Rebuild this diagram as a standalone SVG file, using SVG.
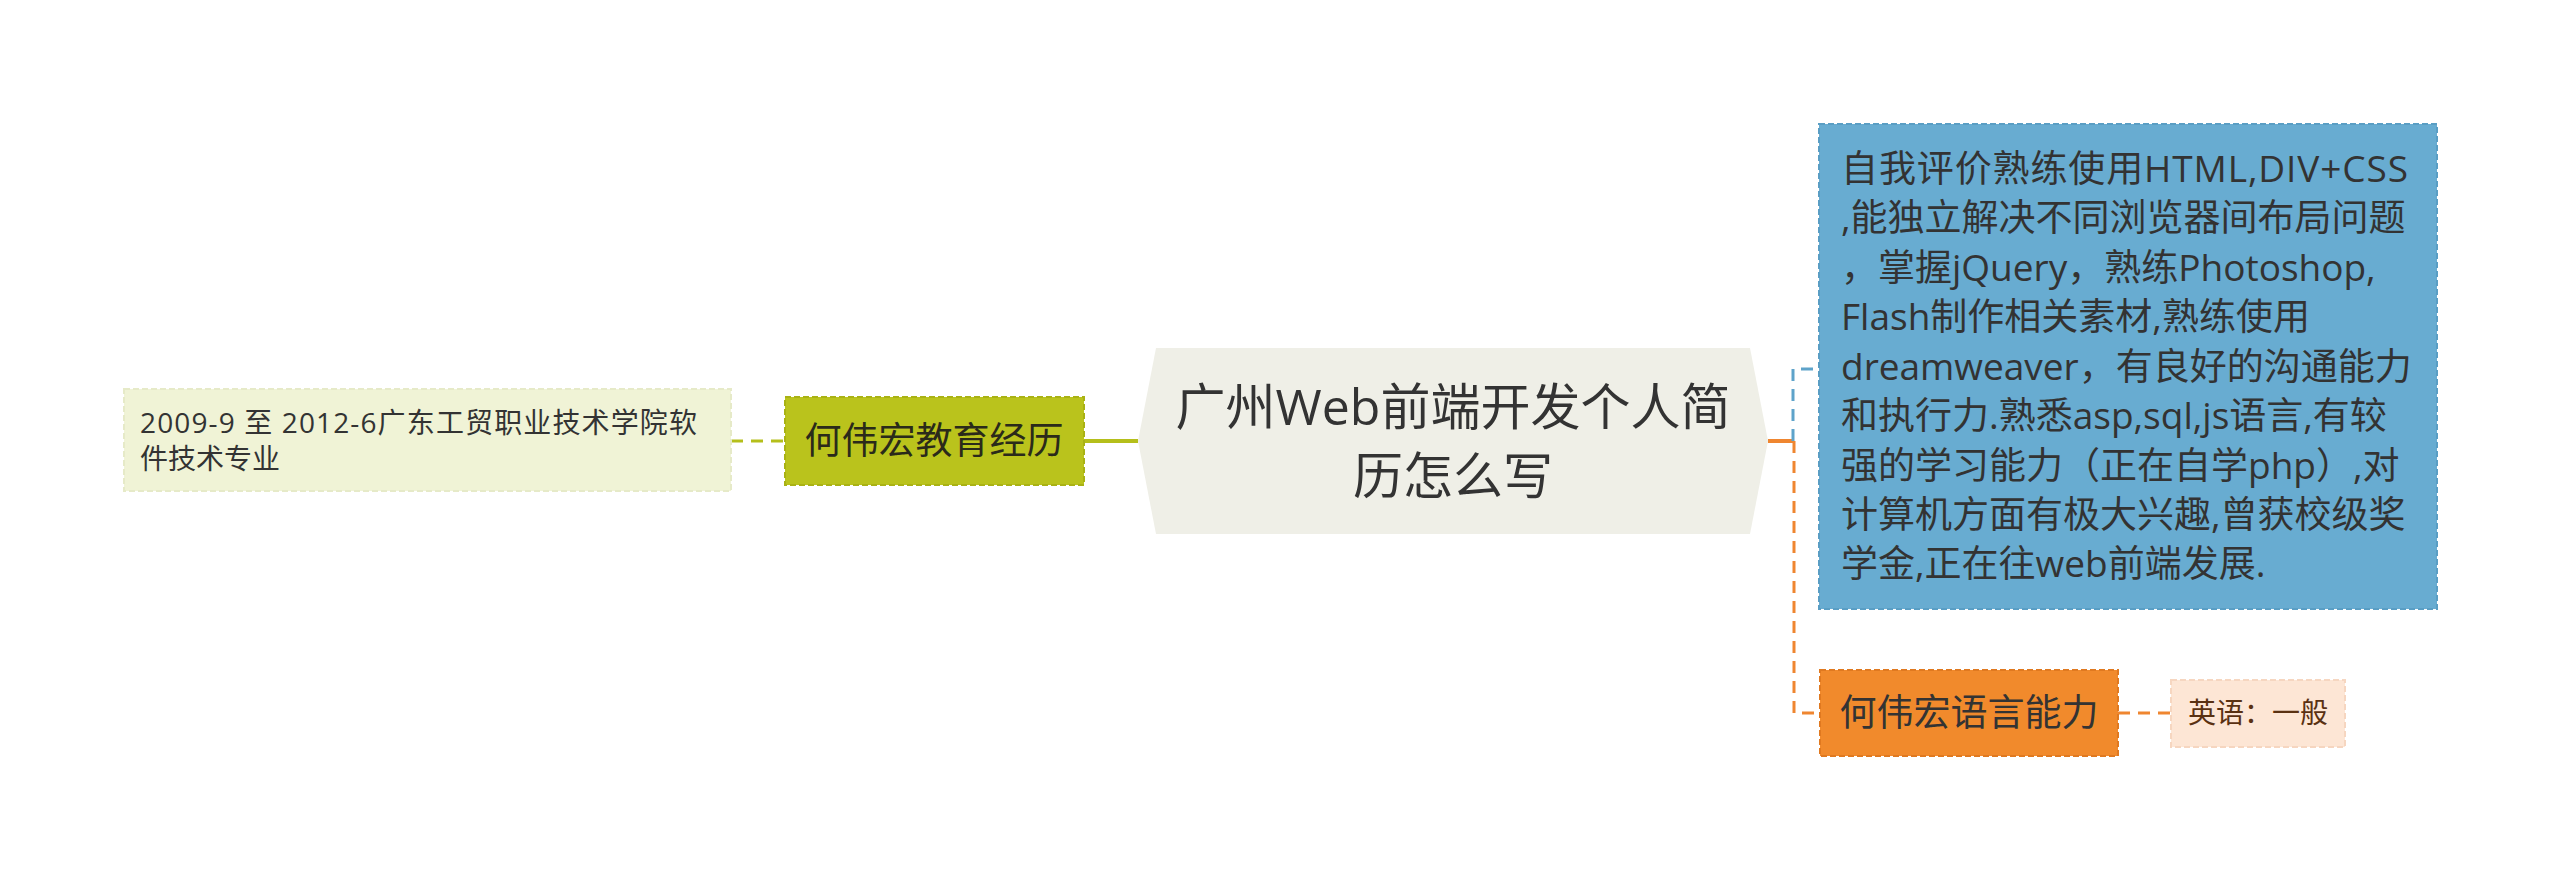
<svg xmlns="http://www.w3.org/2000/svg" width="2560" height="881" viewBox="0 0 2560 881">
<style>
text{font-family:"Open Sans","Noto Sans CJK SC",sans-serif;fill:#333333;}
.c{text-anchor:middle;}
.dash{fill:none;stroke-width:3;stroke-dasharray:12 8;}
.solid{fill:none;stroke-width:4;}
.nb{stroke-width:2;stroke-dasharray:6 3;}
</style>
<rect width="2560" height="881" fill="#ffffff"/>
<g id="connectors">
<line class="solid" x1="1084" y1="441" x2="1138" y2="441" stroke="#b5bf1b"/>
<line class="dash" x1="731" y1="441" x2="785" y2="441" stroke="#b5bf1b"/>
<line class="solid" x1="1768" y1="441" x2="1794" y2="441" stroke="#ef8630"/>
<path class="dash" d="M1793,441 V369 H1815" stroke="#5ea3ca"/>
<path class="dash" d="M1794,441 V713 H1820" stroke="#ef8630"/>
<line class="dash" x1="2118" y1="713" x2="2171" y2="713" stroke="#ef8630"/>
</g>
<g id="root">
<polygon points="1138,441 1156,348 1750,348 1768,441 1750,534 1156,534" fill="#efefe7"/>
<text class="c" x="1453" y="425" font-size="50">广州Web前端开发个人简</text>
<text class="c" x="1453" y="494" font-size="50">历怎么写</text>
</g>
<g id="edu">
<rect class="nb" x="785" y="397" width="299" height="88" fill="#bac31c" stroke="#a9b214"/>
<text class="c" x="934" y="454" font-size="37" style="fill:#2a2a1a">何伟宏教育经历</text>
</g>
<g id="edu-leaf">
<rect class="nb" x="124" y="389" width="607" height="102" fill="#f0f3d6" stroke="#e6eac8"/>
<text x="140" y="433" font-size="28" textLength="557" lengthAdjust="spacing">2009-9 至 2012-6广东工贸职业技术学院软</text>
<text x="140" y="469" font-size="28">件技术专业</text>
</g>
<g id="self">
<rect class="nb" x="1819" y="124" width="618" height="485" fill="#68acd1" stroke="#5a9ec4"/>
<text x="1841" y="182" font-size="37" textLength="567" lengthAdjust="spacing">自我评价熟练使用HTML,DIV+CSS</text>
<text x="1841" y="231" font-size="37">,能独立解决不同浏览器间布局问题</text>
<text x="1841" y="281" font-size="37">，掌握jQuery，熟练Photoshop,</text>
<text x="1841" y="330" font-size="37">Flash制作相关素材,熟练使用</text>
<text x="1841" y="380" font-size="37">dreamweaver，有良好的沟通能力</text>
<text x="1841" y="429" font-size="37">和执行力.熟悉asp,sql,js语言,有较</text>
<text x="1841" y="479" font-size="37">强的学习能力（正在自学php）,对</text>
<text x="1841" y="528" font-size="37">计算机方面有极大兴趣,曾获校级奖</text>
<text x="1841" y="577" font-size="37">学金,正在往web前端发展.</text>
</g>
<g id="lang">
<rect class="nb" x="1820" y="670" width="298" height="86" fill="#f18a2c" stroke="#e07920"/>
<text class="c" x="1969" y="726" font-size="37">何伟宏语言能力</text>
</g>
<g id="lang-leaf">
<rect class="nb" x="2171" y="680" width="174" height="67" fill="#fde6d5" stroke="#f6d6c0"/>
<text class="c" x="2258" y="723" font-size="28" style="fill:#5a3112">英语：一般</text>
</g>
</svg>
